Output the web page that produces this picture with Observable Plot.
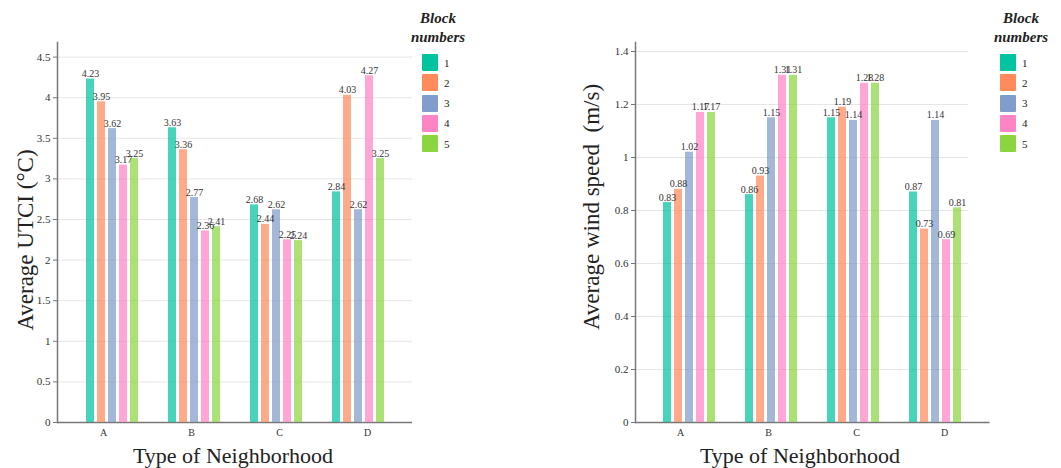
<!DOCTYPE html>
<html><head><meta charset="utf-8">
<script src="https://cdn.jsdelivr.net/npm/d3@7"></script>
<script src="https://cdn.jsdelivr.net/npm/@observablehq/plot@0.6"></script>
<style>
body{margin:0;background:#fff;font-family:"Liberation Serif",serif;color:#222}
#wrap{position:relative;width:1061px;height:468px;overflow:hidden}
.chart{position:absolute;top:0;height:468px}
.chart svg{position:absolute;left:0;top:0;max-width:none !important}
.title{position:absolute;font-size:22px;white-space:pre;line-height:1;transform:translate(-50%,-50%)}
.ytitle{font-size:23px;transform:translate(-50%,-50%) rotate(-90deg)}
.lt{position:absolute;font-weight:bold;font-style:italic;font-size:15px;text-align:center;line-height:19px;transform:translateX(-50%);white-space:nowrap}
.lrow{position:absolute;display:flex;align-items:center;height:17px;font-size:11px;color:#222}
.sw{width:16px;height:17px;margin-right:6px;border-radius:1px}
</style></head>
<body>
<div id="wrap">
  <div id="c1" class="chart" style="left:0;width:415px"></div>
  <div id="c2" class="chart" style="left:520px;width:471px"></div>
</div>
<script>
// categories
const types = ["A", "B", "C", "D"];
const blocks = ["1", "2", "3", "4", "5"];
const blockColors = ["#00c3a0", "#ff8a5b", "#809dcb", "#ff84c6", "#8bd640"];

// Average UTCI (°C), per neighborhood, blocks 1..5
const utciA = [4.23, 3.95, 3.62, 3.17, 3.25];
const utciB = [3.63, 3.36, 2.77, 2.36, 2.41];
const utciC = [2.68, 2.44, 2.62, 2.25, 2.24];
const utciD = [2.84, 4.03, 2.62, 4.27, 3.25];

// Average wind speed (m/s), per neighborhood, blocks 1..5
const windA = [0.83, 0.88, 1.02, 1.17, 1.17];
const windB = [0.86, 0.93, 1.15, 1.31, 1.31];
const windC = [1.15, 1.19, 1.14, 1.28, 1.28];
const windD = [0.87, 0.73, 1.14, 0.69, 0.81];

// tick labels
const utciTicks = [0, 0.5, 1, 1.5, 2, 2.5, 3, 3.5, 4, 4.5];
const windTicks = [0, 0.2, 0.4, 0.6, 0.8, 1, 1.2, 1.4];

function table(series) {
  const rows = [];
  types.forEach((t, i) => series[i].forEach((v, j) => rows.push({type: t, block: blocks[j], value: v})));
  return rows;
}
const utciData = table([utciA, utciB, utciC, utciD]);
const windData = table([windA, windB, windC, windD]);
const fmt = d3.format(".2f");

const baseStyle = {fontFamily: '"Liberation Serif", serif', fontSize: "11px", color: "#333", background: "transparent", overflow: "visible", maxWidth: "none"};

function chart(el, {data, yDomain, yTicks, width, marginLeft, marginRight, paddingOuter, gridInsetRight}) {
  const dims = {width, height: 468, marginLeft, marginRight, marginTop: 42, marginBottom: 46, style: baseStyle};
  // axes, grid and axis lines
  const base = Plot.plot({
    ...dims,
    x: {domain: types, paddingInner: 0, paddingOuter},
    y: {domain: yDomain},
    marks: [
      Plot.ruleY(yTicks.filter(d => d > 0), {stroke: "#e6e6e6", strokeWidth: 1, insetRight: gridInsetRight}),
      Plot.axisX({tickSize: 0, tickPadding: 6, fontSize: 10, label: null}),
      Plot.axisY({ticks: yTicks, tickSize: 4, tickPadding: 3, fontSize: 11, tickFormat: d => String(d), label: null, stroke: "#777"}),
      Plot.ruleY([0], {stroke: "#777", strokeWidth: 1.5}),
      Plot.frame({anchor: "left", stroke: "#777", strokeWidth: 1.5})
    ]
  });
  // grouped bars, faceted by neighborhood type
  const bars = Plot.plot({
    ...dims,
    fx: {domain: types, paddingInner: 0, paddingOuter, axis: null},
    x: {domain: blocks, paddingInner: 0.3, paddingOuter: 1.3, axis: null},
    y: {domain: yDomain, axis: null},
    color: {domain: blocks, range: blockColors},
    marks: [
      Plot.barY(data, {fx: "type", x: "block", y: "value", fill: "block", fillOpacity: 0.72}),
      Plot.text(data, {fx: "type", x: "block", y: "value", text: d => fmt(d.value), lineAnchor: "bottom", dy: -2, fontSize: 10, fill: "#333"})
    ]
  });
  el.append(base, bars);
}

chart(document.getElementById("c1"), {
  data: utciData, yDomain: [0, 4.68], yTicks: utciTicks,
  width: 415, marginLeft: 57, marginRight: 3, paddingOuter: 0.15, gridInsetRight: 0
});
chart(document.getElementById("c2"), {
  data: windData, yDomain: [0, 1.434], yTicks: windTicks,
  width: 471, marginLeft: 115, marginRight: 1.5, paddingOuter: 0.14, gridInsetRight: 21.5
});

const wrap = document.getElementById("wrap");
function addText(cls, text, x, y) {
  const d = document.createElement("div");
  d.className = cls; d.textContent = text;
  d.style.left = x + "px"; d.style.top = y + "px";
  wrap.append(d);
}
addText("title", "Type of Neighborhood", 233, 456);
addText("title", "Type of Neighborhood", 800, 456);
addText("title ytitle", "Average UTCI (°C)", 25, 240);
addText("title ytitle", "Average wind speed  (m/s)", 591, 207);

function legend(cx, swx) {
  const t = document.createElement("div");
  t.className = "lt"; t.innerHTML = "Block<br>numbers";
  t.style.left = cx + "px"; t.style.top = "9px";
  wrap.append(t);
  blocks.forEach((b, i) => {
    const r = document.createElement("div");
    r.className = "lrow";
    r.style.left = swx + "px"; r.style.top = (54 + i * 20.3) + "px";
    const s = document.createElement("div");
    s.className = "sw"; s.style.background = blockColors[i];
    const l = document.createElement("span"); l.textContent = b;
    r.append(s, l);
    wrap.append(r);
  });
}
legend(438, 422);
legend(1021, 1000);
</script>
</body></html>
